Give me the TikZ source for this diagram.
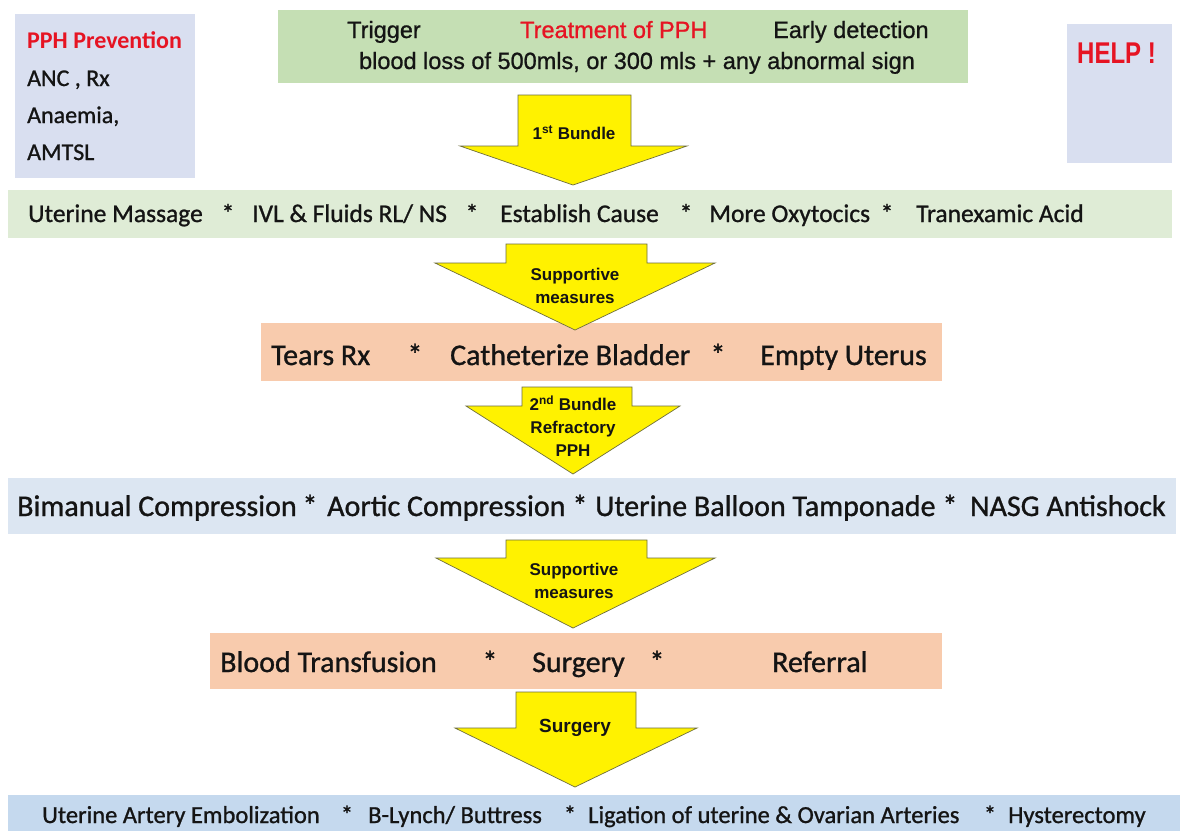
\documentclass[tikz,border=0pt]{standalone}
\usepackage{fontspec}
\setmainfont{Carlito}
\newfontfamily\heavy{Carlito}[FakeBold=1.0]
\newfontfamily\arial{Liberation Sans}
\newfontfamily\arialh{Liberation Sans}[FakeBold=0.9]
\newfontfamily\arialn[FakeStretch=0.8]{Liberation Sans}
\definecolor{boxblue}{RGB}{217,223,240}
\definecolor{topgreen}{RGB}{197,223,180}
\definecolor{rowgreen}{RGB}{223,236,214}
\definecolor{salmon}{RGB}{248,203,173}
\definecolor{rowblue}{RGB}{220,230,242}
\definecolor{botblue}{RGB}{197,217,238}
\definecolor{pphred}{RGB}{230,20,35}
\definecolor{ink}{RGB}{20,20,20}
\definecolor{yborder}{RGB}{110,110,60}
\newcommand\yarr[8]{\draw[yarrow] (#1,#3) -- (#2,#3) -- (#2,#4) -- (#6,#4) -- (#7,#8) -- (#5,#4) -- (#1,#4) -- cycle;}
\begin{document}
\begin{tikzpicture}[x=1pt,y=-1pt,
  band/.style={fill=#1, draw=none, inner sep=0, anchor=north west},
  txt/.style={inner sep=0, text=ink, anchor=base west},
  rowa/.style={txt, font=\heavy\fontsize{25.5}{28}\selectfont},
  rowb/.style={txt, font=\heavy\fontsize{30}{34}\selectfont},
  rowc/.style={txt, font=\heavy\fontsize{24.5}{27}\selectfont},
  star/.style={inner sep=0, text=ink, anchor=base},
  yarrow/.style={fill=yellow, draw=yborder, line width=0.7pt, line join=miter},
  alab/.style={inner sep=0, text=ink, align=center, font=\arial\bfseries\fontsize{17}{23}\selectfont},
  toptxt/.style={txt, font=\arialh\fontsize{23.5}{26}\selectfont}]
\useasboundingbox (0,0) rectangle (1180,831);
\fill[white] (0,0) rectangle (1180,831);

% side boxes
\node[band=boxblue, minimum width=180pt, minimum height=164pt] (pph) at (15,14) {};
\node[band=boxblue, minimum width=105pt, minimum height=139pt] (help) at (1067,24) {};
\node[txt, text=pphred, font=\bfseries\fontsize{24}{28}\selectfont] (pphT) at (27,48) {PPH Prevention};
\node[txt, font=\heavy\fontsize{24}{28}\selectfont] (pph1) at (27,86) {ANC , Rx};
\node[txt, font=\heavy\fontsize{24}{28}\selectfont] (pph2) at (27,123) {Anaemia,};
\node[txt, font=\heavy\fontsize{24}{28}\selectfont] (pph3) at (27,160) {AMTSL};
\node[txt, text=pphred, font=\arialn\bfseries\fontsize{30}{34}\selectfont] (helpT) at (1077,63) {HELP !};

% top box
\node[band=topgreen, minimum width=690pt, minimum height=73pt] (top) at (278,10) {};
\node[toptxt] (trig) at (347,38) {Trigger};
\node[toptxt, text=pphred] (treat) at (520,38) {Treatment of PPH};
\node[toptxt] (early) at (773,38) {Early detection};
\node[toptxt, anchor=base] (loss) at (637,69) {blood loss of 500mls, or 300 mls + any abnormal sign};

% row 2
\node[band=rowgreen, minimum width=1164pt, minimum height=48pt] (r2) at (8,190) {};
\node[rowa] (r2a) at (28,222) {Uterine Massage};
\node[rowa] (r2b) at (252,222) {IVL \& Fluids RL/ NS};
\node[rowa] (r2c) at (500,222) {Establish Cause};
\node[rowa] (r2d) at (709,222) {More Oxytocics};
\node[rowa] (r2e) at (916,222) {Tranexamic Acid};
\foreach \x/\n in {228/1,472/2,686/3,887/4}{\node[star, font=\heavy\fontsize{25.5}{28}\selectfont] (r2s\n) at (\x,222) {*};}

% tears row
\node[band=salmon, minimum width=681pt, minimum height=58pt] (tr) at (261,323) {};
\node[rowb] (tra) at (271,365) {Tears Rx};
\node[rowb] (trb) at (450,365) {Catheterize Bladder};
\node[rowb] (trc) at (760,365) {Empty Uterus};
\foreach \x/\n in {415/1,718/2}{\node[star, font=\heavy\fontsize{30}{34}\selectfont] (trs\n) at (\x,365) {*};}

% row 3
\node[band=rowblue, minimum width=1168pt, minimum height=56pt] (r3) at (8,478) {};
\node[rowb] (r3a) at (17,516) {Bimanual Compression};
\node[rowb] (r3b) at (327,516) {Aortic Compression};
\node[rowb] (r3c) at (595,516) {Uterine Balloon Tamponade};
\node[rowb] (r3d) at (970,516) {NASG Antishock};
\foreach \x/\n in {310/1,580/2,950/3}{\node[star, font=\heavy\fontsize{30}{34}\selectfont] (r3s\n) at (\x,516) {*};}

% blood row
\node[band=salmon, minimum width=732pt, minimum height=56pt] (bl) at (210,633) {};
\node[rowb] (bla) at (220,672) {Blood Transfusion};
\node[rowb] (blb) at (532,672) {Surgery};
\node[rowb] (blc) at (772,672) {Referral};
\foreach \x/\n in {490/1,657/2}{\node[star, font=\heavy\fontsize{30}{34}\selectfont] (bls\n) at (\x,672) {*};}

% bottom row
\node[band=botblue, minimum width=1172pt, minimum height=36pt] (bt) at (8,795) {};
\node[rowc] (bta) at (42,823) {Uterine Artery Embolization};
\node[rowc] (btb) at (368,823) {B-Lynch/ Buttress};
\node[rowc] (btc) at (588,823) {Ligation of uterine \& Ovarian Arteries};
\node[rowc] (btd) at (1008,823) {Hysterectomy};
\foreach \x/\n in {347/1,570/2,990/3}{\node[star, font=\heavy\fontsize{24.5}{27}\selectfont] (bts\n) at (\x,823) {*};}

% yellow arrows
\yarr{518}{631}{95}{146}{460}{687}{573}{185}
\yarr{506}{647}{244}{263}{435}{715}{575}{330}
\yarr{522}{632}{387}{406}{466}{680}{573}{474}
\yarr{506}{647}{540}{558}{436}{715}{573}{628}
\yarr{516}{636}{692}{728}{455}{697}{575}{787}
\node[alab] (a1) at (574,133) {1\textsuperscript{st} Bundle};
\node[alab] (a2) at (575,286) {Supportive\\measures};
\node[alab] (a3) at (573,426) {2\textsuperscript{nd} Bundle\\Refractory\\PPH};
\node[alab] (a4) at (574,581) {Supportive\\measures};
\node[alab, font=\arial\bfseries\fontsize{19}{23}\selectfont] (a5) at (575,728) {Surgery};
\end{tikzpicture}
\end{document}
